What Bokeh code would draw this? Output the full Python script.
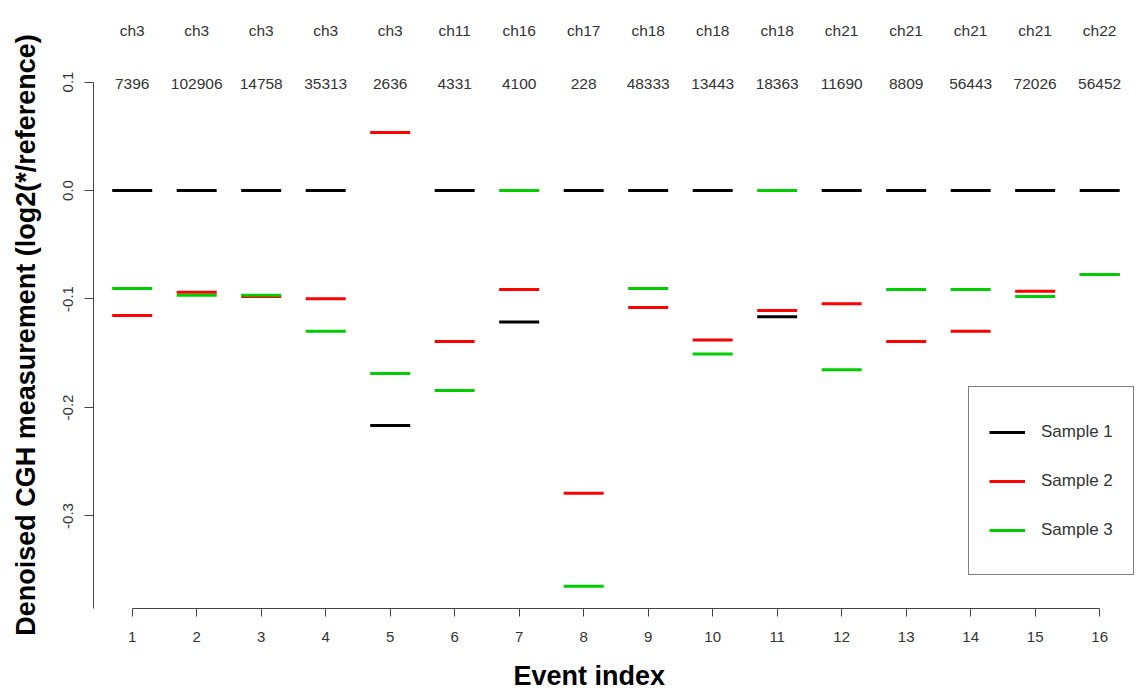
from bokeh.plotting import figure
from bokeh.models import (ColumnDataSource, LabelSet, Legend, LegendItem,
                          FixedTicker, PrintfTickFormatter, LinearAxis)
from bokeh.core.properties import value
from bokeh.embed import file_html
from bokeh.resources import INLINE

# ---------------- data ----------------
events = list(range(1, 17))
chromosomes = ["ch3", "ch3", "ch3", "ch3", "ch3", "ch11", "ch16", "ch17",
               "ch18", "ch18", "ch18", "ch21", "ch21", "ch21", "ch21", "ch22"]
probe_counts = ["7396", "102906", "14758", "35313", "2636", "4331", "4100", "228",
                "48333", "13443", "18363", "11690", "8809", "56443", "72026", "56452"]
sample1 = [0.0, 0.0, 0.0, 0.0, -0.2166, 0.0, -0.1213, 0.0,
           0.0, 0.0, -0.1164, 0.0, 0.0, 0.0, 0.0, 0.0]
sample2 = [-0.1152, -0.0937, -0.0977, -0.0998, 0.0535, -0.1392, -0.0912, -0.2790,
           -0.1078, -0.1379, -0.1106, -0.1045, -0.1392, -0.1297, -0.0928, -0.0774]
sample3 = [-0.0903, -0.0965, -0.0965, -0.1297, -0.1687, -0.1843, 0.0, -0.3647,
           -0.0903, -0.1508, 0.0, -0.1653, -0.0912, -0.0912, -0.0977, -0.0774]
series_names = ["Sample 1", "Sample 2", "Sample 3"]
series_colors = ["#000000", "#FF0000", "#00CD00"]
y_ticks = [-0.3, -0.2, -0.1, 0.0, 0.1]

# ---------------- layout constants ----------------
HALF = 0.31           # half width of each event segment (x units)
XTITLE_AT = 8.085     # x position (data units) where the x title is centred
TEXT_FONT = "Liberation Sans"
TEXT_COLOR = "#333333"
AXIS_COLOR = "#444444"

p = figure(width=1140, height=698, output_backend="svg", toolbar_location=None,
           x_range=(0.4, 16.633), y_range=(-0.3853, 0.1189),
           min_border_left=93, min_border_right=0, min_border_top=61,
           min_border_bottom=90)
p.outline_line_color = None
p.xgrid.visible = False
p.ygrid.visible = False
p.background_fill_color = "white"
p.border_fill_color = "white"

xa = p.below[0]
ya = p.left[0]

renderers = []
for vals, name, col in zip([sample1, sample2, sample3], series_names, series_colors):
    src = ColumnDataSource(dict(x0=[e - HALF for e in events],
                                x1=[e + HALF for e in events],
                                y=vals))
    r = p.segment(x0="x0", x1="x1", y0="y", y1="y", source=src,
                  line_color=col, line_width=3, line_cap="butt")
    renderers.append((name, r))

# probe counts inside the plot region
lab_src = ColumnDataSource(dict(x=events, count=probe_counts))
p.add_layout(LabelSet(x="x", y=0.0986, text="count", source=lab_src,
                      text_align="center", text_baseline="middle",
                      text_font=value(TEXT_FONT), text_font_size=value("15.5px"),
                      text_color=value(TEXT_COLOR)))

# chromosome names in the top margin, as a label-only axis
top = LinearAxis(ticker=FixedTicker(ticks=events),
                 major_label_overrides={e: c for e, c in zip(events, chromosomes)})
top.axis_line_color = None
top.major_tick_line_color = None
top.minor_tick_line_color = None
top.major_tick_out = 0
top.major_tick_in = 0
top.major_label_standoff = 23
top.major_label_text_font = TEXT_FONT
top.major_label_text_font_size = "15.5px"
top.major_label_text_color = TEXT_COLOR
p.add_layout(top, "above")

# axes
xa.ticker = FixedTicker(ticks=events)
xa.bounds = (1, 16)
ya.ticker = FixedTicker(ticks=y_ticks)
ya.formatter = PrintfTickFormatter(format="%.1f")
ya.bounds = (-0.3853, 0.1)
ya.axis_label = "Denoised CGH measurement (log2(*/reference)"
ya.major_label_orientation = "vertical"

for ax in (xa, ya):
    ax.axis_line_color = AXIS_COLOR
    ax.major_tick_line_color = AXIS_COLOR
    ax.minor_tick_line_color = None
    ax.major_tick_in = 0
    ax.major_label_text_font = TEXT_FONT
    ax.major_label_text_font_size = "15px"
    ax.major_label_text_color = TEXT_COLOR
    ax.axis_label_text_font = TEXT_FONT
    ax.axis_label_text_font_style = "bold"
    ax.axis_label_text_font_size = "27px"
    ax.axis_label_text_color = "#000000"
xa.major_tick_out = 8
xa.major_label_standoff = 15
ya.major_tick_out = 9
ya.major_label_standoff = 11
ya.axis_label_standoff = 20

# x-axis title as a second, label-only axis below (centred as in the original)
xt = LinearAxis(ticker=FixedTicker(ticks=[XTITLE_AT]),
                major_label_overrides={XTITLE_AT: "Event index"})
xt.axis_line_color = None
xt.major_tick_line_color = None
xt.minor_tick_line_color = None
xt.major_tick_out = 0
xt.major_tick_in = 0
xt.major_label_standoff = 16
xt.major_label_text_font = TEXT_FONT
xt.major_label_text_font_style = "bold"
xt.major_label_text_font_size = "27px"
xt.major_label_text_color = "#000000"
p.add_layout(xt, "below")

legend = Legend(items=[LegendItem(label=n, renderers=[r]) for n, r in renderers],
                location=(875, 33), orientation="vertical",
                padding=20, spacing=0, glyph_width=36, glyph_height=48,
                label_height=49, label_standoff=16,
                label_text_font=TEXT_FONT, label_text_font_size="17px",
                label_text_color=TEXT_COLOR,
                border_line_color="#000000", border_line_width=1,
                background_fill_color="white", background_fill_alpha=1.0)
p.add_layout(legend)

open("out.html", "w").write(file_html(p, INLINE))
